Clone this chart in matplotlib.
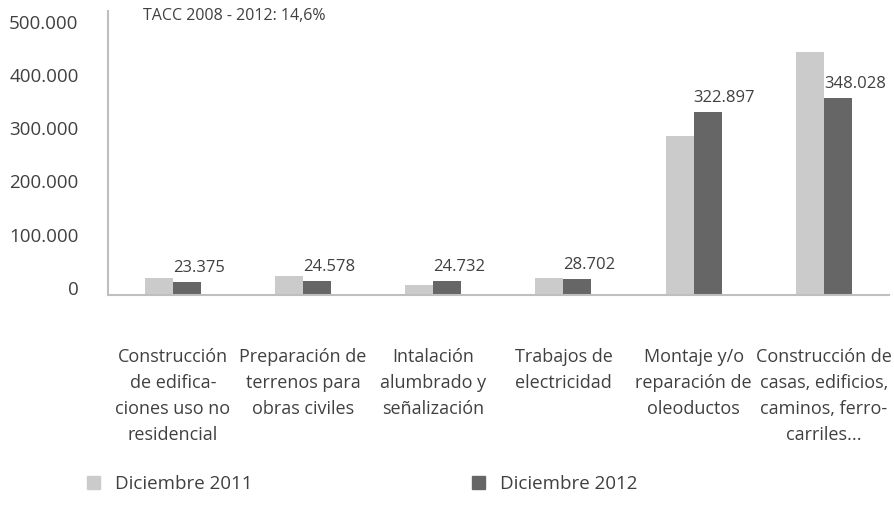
import matplotlib
matplotlib.use("Agg")
import matplotlib.pyplot as plt
import numpy as np
from matplotlib.patches import Patch

categories = [
    "Construcción\nde edifica-\nciones uso no\nresidencial",
    "Preparación de\nterrenos para\nobras civiles",
    "Intalación\nalumbrado y\nseñalización",
    "Trabajos de\nelectricidad",
    "Montaje y/o\nreparación de\noleoductos",
    "Construcción de\ncasas, edificios,\ncaminos, ferro-\ncarriles...",
]
dic_2011 = [30000, 34000, 17500, 29500, 280000, 428000]
dic_2012 = [23375, 24578, 24732, 28702, 322897, 348028]
labels_2012 = ["23.375", "24.578", "24.732", "28.702", "322.897", "348.028"]
series_names = ["Diciembre 2011", "Diciembre 2012"]
ytick_vals = [0, 100000, 200000, 300000, 400000, 500000]
ytick_labels = ["0", "100.000", "200.000", "300.000", "400.000", "500.000"]
note = "TACC 2008 - 2012: 14,6%"

plt.rcParams['font.family'] = ['Open Sans', 'DejaVu Sans']
text_color = "#404040"
c_light = "#cbcbcb"
c_dark = "#666666"

fig = plt.figure(figsize=(8.95, 5.11), dpi=100)
ax = fig.add_axes([0.1203, 0.4227, 0.8730, 0.5548])

x = np.arange(len(categories))
w = 0.215
ax.bar(x - w / 2, dic_2011, width=w, color=c_light, label=series_names[0])
ax.bar(x + w / 2, dic_2012, width=w, color=c_dark, label=series_names[1])

for xi, v, lab in zip(x, dic_2012, labels_2012):
    ax.annotate(lab, (xi, v), xytext=(0, 7), textcoords="offset points",
                ha="left", va="baseline", fontsize=12, color=text_color)

ax.set_xlim(-0.5, len(categories) - 0.5)
ax.set_ylim(0, 500000)

# tick labels in the reference sit slightly compressed relative to the scale
tick_pos = np.array(ytick_vals) * 0.94 + 12300
ax.set_yticks(tick_pos, ytick_labels)
ax.tick_params(axis="y", length=0, pad=21, labelsize=13.5, labelcolor=text_color)
ax.set_xticks(x, categories)
ax.tick_params(axis="x", length=0, pad=38, labelsize=13, labelcolor=text_color)
for t in ax.get_xticklabels():
    t.set_linespacing(1.58)

for s in ["top", "right"]:
    ax.spines[s].set_visible(False)
for s in ["left", "bottom"]:
    ax.spines[s].set_color("#bfbfbf")
    ax.spines[s].set_linewidth(1.5)

ax.text(0.045, 0.985, note, transform=ax.transAxes, fontsize=11.5,
        color=text_color, ha="left", va="center")

handles = [Patch(color=c_light), Patch(color=c_dark)]
fig.legend(handles, series_names, loc="center left", bbox_to_anchor=(0.078, 0.052),
           ncol=2, frameon=False, fontsize=13.5, handlelength=0.7, handleheight=0.7,
           handletextpad=0.8, columnspacing=11.7, labelcolor=text_color)

fig.savefig("out.png", dpi=100)
